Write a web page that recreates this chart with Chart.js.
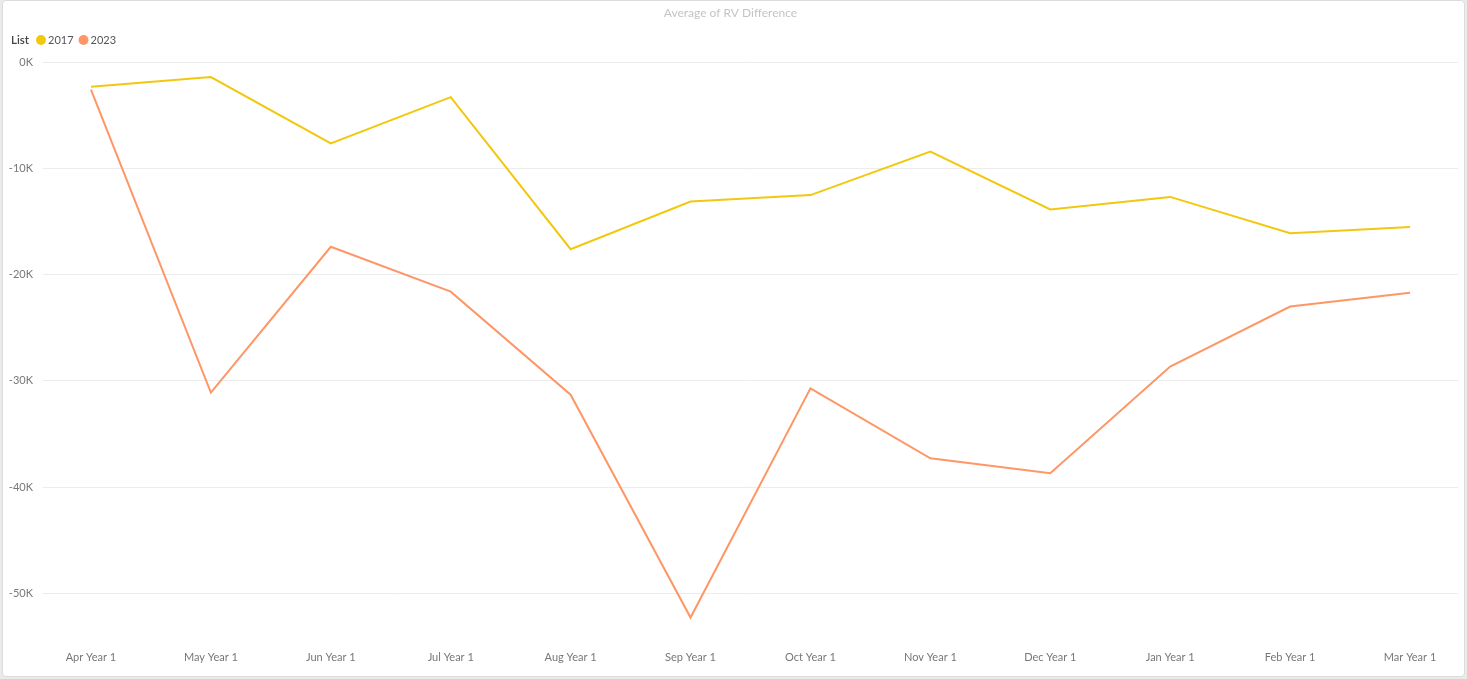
<!DOCTYPE html>
<html>
<head>
<meta charset="utf-8">
<title>Average of RV Difference</title>
<script src="https://cdn.jsdelivr.net/npm/chart.js@4/dist/chart.umd.min.js"></script>
<style>
  html, body { margin: 0; padding: 0; background: #eaeaea; }
  .card {
    position: absolute; left: 2px; top: 0; width: 1461px; height: 675px;
    background: #fff; border: 1px solid #dcdcdc; border-radius: 4px; overflow: hidden;
  }
  .card canvas { display: block; }
</style>
</head>
<body>
<div class="card"><canvas id="myChart" width="1461" height="675"></canvas></div>
<script>
const months = ['Apr Year 1', 'May Year 1', 'Jun Year 1', 'Jul Year 1', 'Aug Year 1', 'Sep Year 1',
                'Oct Year 1', 'Nov Year 1', 'Dec Year 1', 'Jan Year 1', 'Feb Year 1', 'Mar Year 1'];
const seriesNames = ['2017', '2023'];
const rv2017 = [-2290, -1380, -7630, -3270, -17600, -13100, -12500, -8400, -13860, -12670, -16100, -15500];
const rv2023 = [-2570, -31100, -17370, -21600, -31300, -52300, -30700, -37300, -38700, -28650, -23000, -21700];
const yTicks = [-50000, -40000, -30000, -20000, -10000, 0];
const legendTitle = 'List';

const FONT = "'Segoe UI', Lato, 'Open Sans', sans-serif";
const toPoints = (vals) => vals.map((v, i) => ({ x: i, y: v }));

// draws "List ● 2017 ● 2023" on one line above the plot, like the original
const inlineLegend = {
    id: 'inlineLegend',
    afterDraw(chart) {
        const ctx = chart.ctx;
        const y = 39;
        let x = 8;
        ctx.save();
        ctx.textBaseline = 'middle';
        ctx.textAlign = 'left';
        ctx.font = "600 11.5px " + FONT;
        ctx.fillStyle = '#444';
        ctx.fillText(legendTitle, x, y);
        x += ctx.measureText(legendTitle).width + 7;
        ctx.font = "11px " + FONT;
        chart.data.datasets.forEach(ds => {
            ctx.fillStyle = ds.borderColor;
            ctx.beginPath();
            ctx.arc(x + 5, y, 5, 0, Math.PI * 2);
            ctx.fill();
            x += 12;
            ctx.fillStyle = '#555';
            ctx.fillText(ds.label, x, y);
            x += ctx.measureText(ds.label).width + 5;
        });
        ctx.restore();
    }
};

const ctx = document.getElementById('myChart');
new Chart(ctx, {
    type: 'line',
    data: {
        datasets: [
            {
                label: seriesNames[0],
                data: toPoints(rv2017),
                borderColor: '#F2C80F',
                borderWidth: 2,
            },
            {
                label: seriesNames[1],
                data: toPoints(rv2023),
                borderColor: '#FE9666',
                borderWidth: 2,
            },
        ]
    },
    options: {
        responsive: false,
        animation: false,
        layout: { padding: { left: 0, right: 6, top: 0, bottom: 8 } },
        elements: { point: { radius: 0, hoverRadius: 0 }, line: { tension: 0 } },
        plugins: {
            legend: { display: false },
            tooltip: { enabled: false },
            title: {
                display: true,
                text: 'Average of RV Difference',
                color: '#c4c4c4',
                font: { family: FONT, size: 12, weight: 'normal' },
                padding: { top: 5, bottom: 42 }
            }
        },
        scales: {
            x: {
                type: 'linear',
                min: -0.4,
                max: 11.4,
                afterBuildTicks: (scale) => { scale.ticks = months.map((_, i) => ({ value: i })); },
                ticks: {
                    autoSkip: false,
                    maxRotation: 0,
                    color: '#777',
                    font: { family: FONT, size: 11 },
                    padding: 4,
                    callback: (v) => months[v]
                },
                grid: { display: false },
                border: { display: false }
            },
            y: {
                min: -54300,
                max: 0,
                afterBuildTicks: (scale) => { scale.ticks = yTicks.map(v => ({ value: v })); },
                afterFit: (scale) => { scale.width = 40; },
                ticks: {
                    color: '#777',
                    font: { family: FONT, size: 11 },
                    padding: 10,
                    callback: (v) => (v / 1000) + 'K'
                },
                grid: { color: '#ececec', lineWidth: 1, drawTicks: false },
                border: { display: false }
            }
        }
    },
    plugins: [inlineLegend]
});
</script>
</body>
</html>
